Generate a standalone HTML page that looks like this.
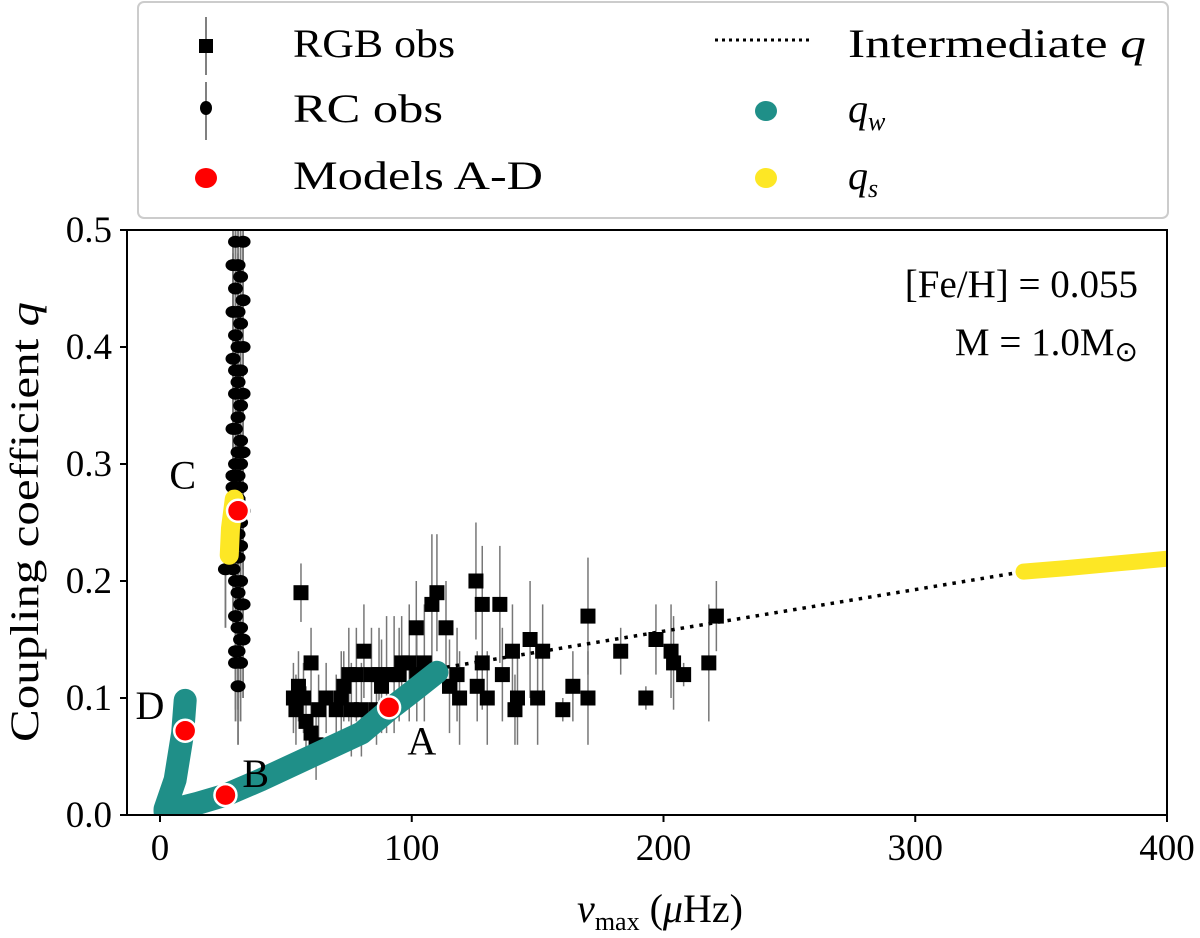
<!DOCTYPE html>
<html><head><meta charset="utf-8"><style>
html,body{margin:0;padding:0;background:#fff}
svg{display:block;font-family:"Liberation Serif",serif}
</style></head><body>
<svg id="chart" width="1200" height="938" viewBox="0 0 1200 938" xmlns="http://www.w3.org/2000/svg">
<g id="marks"></g>
<rect x="127" y="230" width="1040" height="585" fill="none" stroke="#000" stroke-width="2"/>
<g id="axes"></g>
<text transform="translate(38,522) rotate(-90)" text-anchor="middle" font-size="40" textLength="440" lengthAdjust="spacingAndGlyphs">Coupling coefficient <tspan font-style="italic">q</tspan></text>
<text x="660" y="922" text-anchor="middle" font-size="40"><tspan font-style="italic">ν</tspan><tspan font-size="26" dy="8">max</tspan><tspan dy="-8"> (</tspan><tspan font-style="italic">μ</tspan>Hz)</text>
<text x="1138" y="297" text-anchor="end" font-size="39">[Fe/H] = 0.055</text>
<text x="1138" y="355" text-anchor="end" font-size="39">M = 1.0M<tspan font-size="28" dy="6">⊙</tspan></text>
<g>
<rect x="138" y="2" width="1030" height="216" rx="6" fill="#fff" stroke="#ccc" stroke-width="2"/>
<g><line x1="206" y1="17" x2="206" y2="75" stroke="#555" stroke-width="1.5"/><rect x="199" y="39" width="14" height="14" fill="#000"/><text x="293" y="57" font-size="40" textLength="162" lengthAdjust="spacingAndGlyphs">RGB obs</text></g>
<g><line x1="206" y1="82" x2="206" y2="140" stroke="#555" stroke-width="1.5"/><ellipse cx="206" cy="108" rx="6" ry="7" fill="#000"/><text x="293" y="122" font-size="40" textLength="150" lengthAdjust="spacingAndGlyphs">RC obs</text></g>
<g><ellipse cx="206" cy="178" rx="11" ry="10" fill="#f00"/><text x="293" y="189" font-size="40" textLength="250" lengthAdjust="spacingAndGlyphs">Models A-D</text></g>
<g><line x1="715" y1="40" x2="812" y2="40" stroke="#000" stroke-width="3" stroke-dasharray="3,4"/><text x="848" y="57" font-size="40" textLength="298" lengthAdjust="spacingAndGlyphs">Intermediate <tspan font-style="italic">q</tspan></text></g>
<g><ellipse cx="766" cy="111" rx="11" ry="10" fill="#1f8f88"/><text x="848" y="122" font-size="40" font-style="italic">q<tspan font-size="26" dy="8">w</tspan></text></g>
<g><ellipse cx="766" cy="178" rx="11" ry="10" fill="#fde725"/><text x="848" y="189" font-size="40" font-style="italic">q<tspan font-size="26" dy="8">s</tspan></text></g>
</g>
</svg>
<script>
const xTicks=[0,100,200,300,400];
const yTicks=[0.0,0.1,0.2,0.3,0.4,0.5];
const rgbNu=[56,60,55,53,57,54,58,60,62,72,75,78,81,84,87,90,93,96,99,102,105,101.8,108,110,113.6,86,80,76,73,70,115,118,119,125.5,128,135,126,130,136,140,141,142,147,150,152,160,164,170,170,183,193,197,203,204,208,218,221,128,66,63,88,95];
const rgbQ=[0.19,0.13,0.11,0.10,0.10,0.09,0.08,0.07,0.06,0.10,0.12,0.12,0.14,0.12,0.12,0.12,0.12,0.13,0.13,0.12,0.13,0.16,0.18,0.19,0.16,0.09,0.09,0.09,0.11,0.09,0.11,0.12,0.10,0.20,0.18,0.18,0.11,0.10,0.12,0.14,0.09,0.10,0.15,0.10,0.14,0.09,0.11,0.10,0.17,0.14,0.10,0.15,0.14,0.13,0.12,0.13,0.17,0.13,0.10,0.09,0.11,0.12];
const rgbErr=[0.025,0.03,0.03,0.03,0.03,0.03,0.03,0.03,0.03,0.04,0.04,0.04,0.04,0.04,0.04,0.05,0.05,0.04,0.05,0.04,0.05,0.04,0.06,0.05,0.04,0.03,0.04,0.04,0.03,0.03,0.04,0.04,0.04,0.05,0.05,0.05,0.03,0.04,0.04,0.04,0.03,0.04,0.05,0.04,0.04,0.01,0.03,0.04,0.05,0.02,0.01,0.03,0.04,0.04,0.01,0.05,0.03,0.04,0.03,0.03,0.04,0.04];
const rcNu=[30,33,29,31,32,30,33,29,31,32,30,31,33,29,32,30,31,33,30,32,31,29,30,32,31,33,30,32,29,31,30,32,31,33,30,31,32,29,30,31,32,33,30,31,32,33,31,30,32,31,26,29,31,32,30,29,31,32,32];
const rcQ=[0.49,0.49,0.47,0.47,0.46,0.45,0.44,0.43,0.43,0.42,0.41,0.40,0.40,0.39,0.38,0.38,0.37,0.36,0.36,0.35,0.34,0.33,0.33,0.32,0.31,0.31,0.30,0.30,0.29,0.29,0.28,0.28,0.27,0.26,0.25,0.24,0.23,0.21,0.20,0.19,0.18,0.18,0.17,0.16,0.16,0.15,0.14,0.14,0.13,0.11,0.21,0.29,0.22,0.20,0.13,0.28,0.27,0.25,0.15];
const qwNu=[10,9,6,2,2,15,26,40,60,80,91,100,110];
const qwQ=[0.098,0.07,0.03,0.005,0.003,0.01,0.017,0.03,0.05,0.07,0.09,0.105,0.122];
const qsLeftNu=[29.5,28,27.5];
const qsLeftQ=[0.27,0.245,0.222];
const qsRightNu=[343,360,380,400];
const qsRightQ=[0.208,0.211,0.215,0.219];
const interNu=[110,343];
const interQ=[0.125,0.208];
const modelNames=["A","B","C","D"];
const modelNu=[91,26,31,10];
const modelQ=[0.092,0.017,0.26,0.072];
const labelNu=[104,38,9,-4];
const labelQ=[0.063,0.035,0.29,0.093];

const X=v=>160+2.5175*v, Y=q=>815-1170*q;
const NS="http://www.w3.org/2000/svg";
const marks=document.getElementById('marks'), axes=document.getElementById('axes');
function mk(tag,attrs,parent){const e=document.createElementNS(NS,tag);for(const k in attrs)e.setAttribute(k,attrs[k]);parent.appendChild(e);return e;}
const clip=mk('clipPath',{id:'pc'},marks);mk('rect',{x:127,y:230,width:1040,height:585},clip);
const g=mk('g',{'clip-path':'url(#pc)'},marks);
rcNu.forEach((v,i)=>{const e=mk('line',{x1:X(v),x2:X(v),y1:Y(rcQ[i]+0.05),y2:Y(rcQ[i]-0.05),stroke:'#777','stroke-width':1.8},g);

});
rgbNu.forEach((v,i)=>{const e=mk('line',{x1:X(v),x2:X(v),y1:Y(rgbQ[i]+rgbErr[i]),y2:Y(rgbQ[i]-rgbErr[i]),stroke:'#777','stroke-width':1.5},g);

});
rgbNu.forEach((v,i)=>{const e=mk('rect',{x:X(v)-7.5,y:Y(rgbQ[i])-7.5,width:15,height:15,fill:'#000'},g);

});
rcNu.forEach((v,i)=>{const e=mk('ellipse',{cx:X(v),cy:Y(rcQ[i]),rx:7.5,ry:6,fill:'#000'},g);

});
function pl(nu,q,attrs,name){const p=mk('polyline',Object.assign({points:nu.map((v,i)=>X(v)+','+Y(q[i])).join(' '),fill:'none','stroke-linecap':'round','stroke-linejoin':'round'},attrs),g);

}
pl(interNu,interQ,{stroke:'#000','stroke-width':3.5,'stroke-dasharray':'3.5,6','stroke-linecap':'butt'},'intermediate-q-line');
pl(qwNu,qwQ,{stroke:'#1f8f88','stroke-width':23},'qw-track');
pl(qsLeftNu,qsLeftQ,{stroke:'#fde725','stroke-width':19},'qs-track-rc');
pl(qsRightNu,qsRightQ,{stroke:'#fde725','stroke-width':16},'qs-track-high');
modelNu.forEach((v,i)=>{const c=mk('circle',{cx:X(v),cy:Y(modelQ[i]),r:11,fill:'#f00',stroke:'#fff','stroke-width':2.5},g);


const t=mk('text',{x:X(labelNu[i]),y:Y(labelQ[i])+13,'text-anchor':'middle','font-size':40},marks);t.textContent=modelNames[i];

});
xTicks.forEach(v=>{mk('line',{x1:X(v),x2:X(v),y1:815,y2:822,stroke:'#000','stroke-width':2},axes);
const t=mk('text',{x:X(v),y:860,'text-anchor':'middle','font-size':37},axes);t.textContent=v;

});
yTicks.forEach(q=>{mk('line',{x1:120,x2:127,y1:Y(q),y2:Y(q),stroke:'#000','stroke-width':2},axes);
const t=mk('text',{x:112,y:Y(q)+12,'text-anchor':'end','font-size':37},axes);t.textContent=q.toFixed(1);

});
</script>
</body></html>
